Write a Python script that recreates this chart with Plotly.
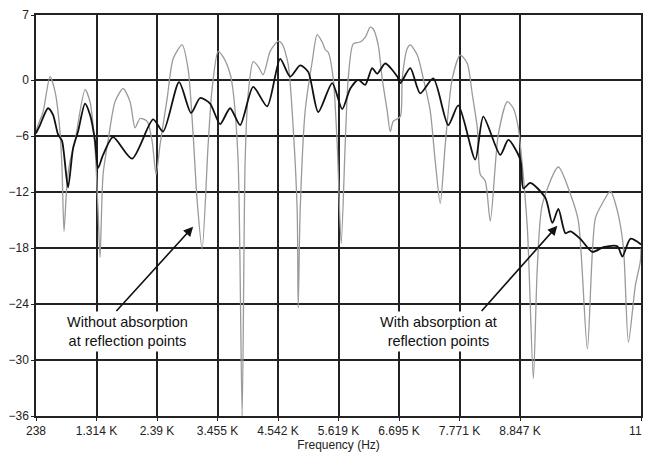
import plotly.graph_objects as go

# Frequency (Hz) and level (dB) - "With absorption at reflection points" (black)
with_freq = [238, 309, 452, 541, 630, 701, 808, 897, 986, 1110, 1199, 1288, 1342, 1431, 1609,
             1947, 2321, 2499, 2783, 2997, 3157, 3335, 3513, 3691, 3869, 4101, 4350, 4581,
             4759, 4937, 5080, 5258, 5507, 5685, 5827, 5970, 6094, 6218, 6307, 6450, 6664,
             6717, 6895, 7073, 7305, 7571, 7750, 8052, 8195, 8497, 8640, 8853, 8907, 9031,
             9298, 9423, 9530, 9655, 9744, 9921, 10135, 10331, 10580, 10669, 10811, 11000]
with_db = [-5.7, -4.8, -3.0, -3.7, -5.8, -6.5, -11.5, -7.3, -5.5, -2.5, -3.7, -6.5, -9.4, -8.0, -6.1,
           -8.4, -4.2, -5.5, -0.2, -3.5, -1.9, -2.5, -4.7, -3.0, -4.8, -0.7, -2.8, 2.3,
           0.4, 1.6, 0.9, -3.4, -0.3, -3.1, -0.9, 0.05, -0.5, 1.3, 0.7, 1.8, 0.4,
           -0.3, 1.3, -1.4, 0.2, -4.8, -2.7, -8.5, -3.9, -8.0, -6.4, -8.5, -11.6, -11.0,
           -12.6, -15.3, -13.8, -16.4, -16.2, -17.0, -18.4, -17.9, -17.8, -18.9, -17.0, -17.6]

# "Without absorption at reflection points" (gray)
without_freq = [238, 256, 363, 487, 576, 665, 701, 736, 790, 843, 932, 1110, 1199, 1288, 1342,
                1377, 1431, 1520, 1644, 1787, 1911, 2000, 2089, 2214, 2303, 2374, 2445, 2570,
                2677, 2837, 2944, 3033, 3104, 3193, 3300, 3371, 3478, 3567, 3691, 3745, 3834,
                3905, 3958, 4012, 4101, 4190, 4279, 4403, 4546, 4617, 4724, 4813, 4884, 4902,
                4937, 5026, 5151, 5240, 5329, 5382, 5436, 5525, 5596, 5667, 5738, 5792, 5881,
                6005, 6094, 6183, 6236, 6325, 6396, 6486, 6539, 6593, 6717, 6753, 6842, 6895,
                7020, 7127, 7251, 7340, 7429, 7518, 7643, 7785, 7910, 7999, 8088, 8141, 8230,
                8319, 8462, 8622, 8729, 8818, 8853, 8978, 9085, 9156, 9245, 9530, 9744, 9886,
                10046, 10188, 10331, 10455, 10580, 10687, 10776, 10900, 10989, 11000]
without_db = [-5.7, -5.1, -3.4, 0.4, -1.2, -5.5, -9.5, -16.2, -11.0, -8.7, -6.5, -1.0, -2.3, -7.3, -14.0,
              -19.0, -10.1, -6.5, -2.3, -0.9, -2.3, -5.1, -4.1, -4.4, -6.5, -10.1, -6.9, -2.0,
              2.3, 3.8, 1.2, -5.8, -12.9, -18.1, -6.9, -0.9, 3.1, 2.5, 0.7, -1.2, -8.7,
              -36.0, -8.7, -1.5, 2.0, 1.5, 0.6, 3.1, 4.2, 3.9, 1.7, -5.1, -14.0, -24.4,
              -14.0, -3.3, 2.0, 4.9, 4.1, 3.3, 3.0, 0.2, -6.9, -17.5, -6.9, 0.2, 3.9,
              4.1, 4.6, 5.7, 5.5, 3.8, 0.2, -3.3, -5.5, -4.4, -3.9, 0.2, 3.4, 3.8,
              2.7, 0.2, -3.3, -8.7, -13.2, -6.9, 0.2, 2.7, 1.8, -1.5, -5.1, -10.1, -10.8,
              -15.1, -5.8, -2.3, -3.0, -5.1, -6.9, -15.8, -32.0, -20.0, -13.3, -9.3, -12.2, -15.1,
              -28.8, -14.8, -13.0, -11.9, -14.0, -17.9, -28.1, -22.0, -19.4, -18.0]

x_tickvals = [238, 1314.2, 2390.4, 3466.6, 4542.8, 5619, 6695.2, 7771.4, 8847.6, 11000]
x_ticktext = ["238", "1.314 K", "2.39 K", "3.455 K", "4.542 K", "5.619 K", "6.695 K",
              "7.771 K", "8.847 K", "11 K"]
y_tickvals = [7, 0, -6, -12, -18, -24, -30, -36]

fig = go.Figure()
fig.add_trace(go.Scatter(x=without_freq, y=without_db, mode="lines",
                         line=dict(color="#9a9a9a", width=1.3, shape="spline", smoothing=0.7),
                         showlegend=False, hoverinfo="skip"))
fig.add_trace(go.Scatter(x=with_freq, y=with_db, mode="lines",
                         line=dict(color="#111111", width=1.8, shape="spline", smoothing=0.7),
                         showlegend=False, hoverinfo="skip"))

font = dict(family="Liberation Sans, Arial, sans-serif", size=12, color="#222")

# The page body has an 8px margin, so the figure is sized to fit the window.
fig.update_layout(
    width=644, height=444,
    margin=dict(l=28, r=11, t=7, b=36),
    paper_bgcolor="white", plot_bgcolor="white",
    font=font,
    xaxis=dict(range=[238, 11000], tickvals=x_tickvals, ticktext=x_ticktext,
               showgrid=True, gridcolor="#222", gridwidth=1.5, automargin=False,
               ticklabeloverflow="allow",
               showline=True, linecolor="#222", linewidth=1.5, mirror=True,
               ticks="outside", ticklen=3, tickcolor="#222", zeroline=False,
               title=dict(text="Frequency (Hz)", standoff=9, font=dict(size=12))),
    yaxis=dict(range=[-36, 7], tickvals=y_tickvals, automargin=False,
               ticklabeloverflow="allow",
               showgrid=True, gridcolor="#222", gridwidth=1.5,
               showline=True, linecolor="#222", linewidth=1.5, mirror=True,
               ticks="outside", ticklen=3, tickcolor="#222", zeroline=False),
)

ann_font = dict(family="Liberation Sans, Arial, sans-serif", size=14.5, color="#111")
fig.add_annotation(x=1858, y=-26.9, text="Without absorption<br>at reflection points",
                   showarrow=False, font=ann_font, bgcolor="white", borderpad=2)
fig.add_annotation(x=7394, y=-26.9, text="With absorption at<br>reflection points",
                   showarrow=False, font=ann_font, bgcolor="white", borderpad=2)
fig.add_annotation(x=3033, y=-15.7, ax=1644, ay=-24.9, axref="x", ayref="y", text="",
                   showarrow=True, arrowhead=2, arrowsize=1.2, arrowwidth=1.6, arrowcolor="#111")
fig.add_annotation(x=9512, y=-15.6, ax=8141, ay=-24.9, axref="x", ayref="y", text="",
                   showarrow=True, arrowhead=2, arrowsize=1.2, arrowwidth=1.6, arrowcolor="#111")

fig.write_html("out.html")
